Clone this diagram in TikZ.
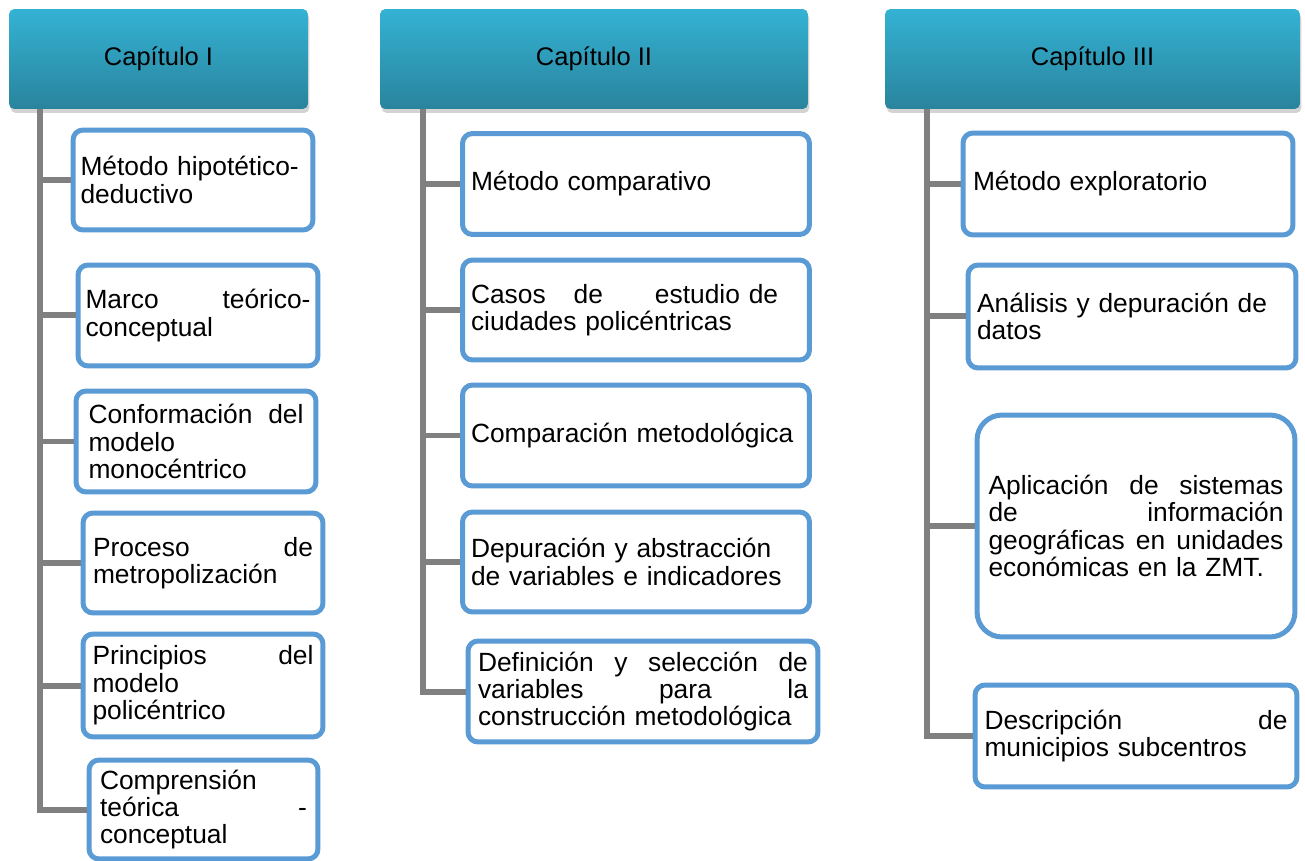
\documentclass[tikz,border=0pt]{standalone}
\usepackage{fontspec}
\setmainfont{Liberation Sans}
\usetikzlibrary{shadows}
\definecolor{hdrtop}{RGB}{52,178,212}
\definecolor{hdrbottom}{RGB}{41,132,156}
\definecolor{boxblue}{RGB}{91,155,213}
\definecolor{trunkgray}{RGB}{128,128,128}

\begin{document}
\begin{tikzpicture}[x=0.02cm,y=-0.02cm]
	\tikzstyle{chapter} = [rectangle,rounded corners=3pt,top color=hdrtop,bottom color=hdrbottom,
		drop shadow={opacity=0.35,shadow xshift=0.03cm,shadow yshift=-0.08cm},
		minimum height=2cm,font=\fontsize{14.5}{17}\selectfont]
	\tikzstyle{leaf} = [rectangle,draw=boxblue,line width=0.1cm,rounded corners=0.2cm,fill=white,
		inner xsep=0pt,align=left,font=\fontsize{15}{15.6}\selectfont]
	\tikzstyle{trunk} = [draw=trunkgray,line width=0.12cm]
	\useasboundingbox (0,0) rectangle (1305,861);

	% chapter headers
	\node[chapter,minimum width=5.98cm] (cap1) at (158.5,59) {Capítulo I};
	\node[chapter,minimum width=8.56cm] (cap2) at (594,59) {Capítulo II};
	\node[chapter,minimum width=8.3cm] (cap3) at (1092.5,59) {Capítulo III};

	\coordinate (t1) at (40,109);
	\coordinate (t2) at (423,109);
	\coordinate (t3) at (927,109);

	% chapter I
	\node[leaf,minimum width=4.8cm,minimum height=2cm,text width=4.5cm] (b11) at (193,180) {Método hipotético-\\deductivo};
	\node[leaf,minimum width=4.8cm,minimum height=2.02cm,text width=4.5cm] (b12) at (198,315.5) {Marco\hfill teórico-\\conceptual};
	\node[leaf,minimum width=4.8cm,minimum height=2.02cm,text width=4.3cm] (b13) at (196,441.5) {Conformación\hfill del\\modelo\\monocéntrico};
	\node[leaf,minimum width=4.8cm,minimum height=2cm,text width=4.4cm] (b14) at (203,563) {Proceso\hfill de\\metropolización};
	\node[leaf,minimum width=4.8cm,minimum height=2.06cm,text width=4.42cm] (b15) at (203,685.5) {Principios\hfill del\\modelo\\policéntrico};
	\node[leaf,minimum width=4.58cm,minimum height=1.98cm,text width=4.14cm] (b16) at (203.5,809.5) {Comprensión\\teórica\hfill -\\conceptual};

	% chapter II
	\node[leaf,minimum width=6.94cm,minimum height=2.02cm,text width=6.6cm] (b21) at (636,184) {Método comparativo};
	\node[leaf,minimum width=6.94cm,minimum height=2cm,text width=6.6cm] (b22) at (636,310) {Casos\hspace{0.56cm}de\hspace{1.04cm}estudio de\\ciudades policéntricas};
	\node[leaf,minimum width=6.94cm,minimum height=2.02cm,text width=6.6cm] (b23) at (636,435.5) {Comparación metodológica};
	\node[leaf,minimum width=6.94cm,minimum height=2cm,text width=6.6cm] (b24) at (636,562) {Depuración y abstracción\\de variables e indicadores};
	\node[leaf,minimum width=7cm,minimum height=2.02cm,text width=6.6cm] (b25) at (643,691.5) {Definición\hfill y\hfill selección\hfill de\\variables\hfill para\hfill la\\construcción metodológica};

	% chapter III
	\node[leaf,minimum width=6.6cm,minimum height=2.04cm,text width=6.2cm] (b31) at (1128,184) {Método exploratorio};
	\node[leaf,minimum width=6.56cm,minimum height=2.06cm,text width=6.2cm] (b32) at (1132,316.5) {Análisis y depuración de\\datos};
	\node[leaf,rounded corners=0.5cm,minimum width=6.36cm,minimum height=4.44cm,text width=5.9cm] (b33) at (1136,526) {Aplicación\hfill de\hfill sistemas\\de\hfill información\\geográficas\hfill en\hfill unidades\\económicas en la ZMT.};
	\node[leaf,minimum width=6.44cm,minimum height=2.04cm,text width=6.06cm] (b34) at (1136,736) {Descripción\hfill de\\municipios subcentros};

	\draw[trunk] (t1) |- (b16.west);
	\draw[trunk] (t1 |- b11.west) -- (b11.west);
	\draw[trunk] (t1 |- b12.west) -- (b12.west);
	\draw[trunk] (t1 |- b13.west) -- (b13.west);
	\draw[trunk] (t1 |- b14.west) -- (b14.west);
	\draw[trunk] (t1 |- b15.west) -- (b15.west);

	\draw[trunk] (t2) |- (b25.west);
	\draw[trunk] (t2 |- b21.west) -- (b21.west);
	\draw[trunk] (t2 |- b22.west) -- (b22.west);
	\draw[trunk] (t2 |- b23.west) -- (b23.west);
	\draw[trunk] (t2 |- b24.west) -- (b24.west);

	\draw[trunk] (t3) |- (b34.west);
	\draw[trunk] (t3 |- b31.west) -- (b31.west);
	\draw[trunk] (t3 |- b32.west) -- (b32.west);
	\draw[trunk] (t3 |- b33.west) -- (b33.west);
\end{tikzpicture}
\end{document}
